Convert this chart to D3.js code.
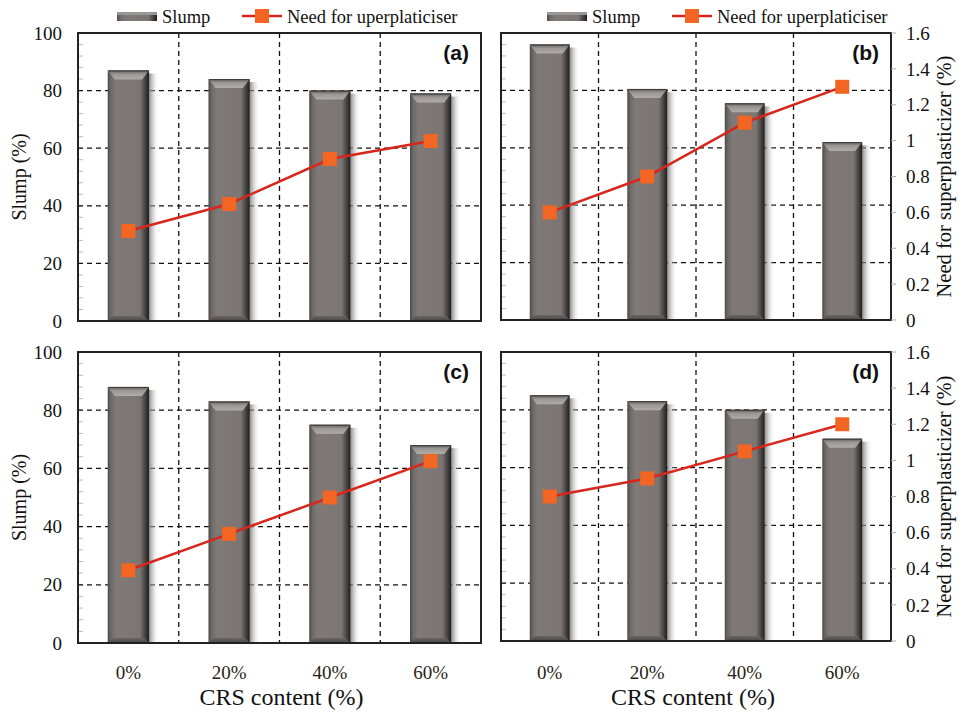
<!DOCTYPE html>
<html><head><meta charset="utf-8">
<script src="https://cdn.jsdelivr.net/npm/d3@7"></script>
<style>
body{margin:0;background:#fff}svg{display:block}
</style>
</head><body>
<svg id="chart" width="963" height="712"></svg>
<script>
// ---- DATA ----
const categories = ["0%", "20%", "40%", "60%"];
const slumpA = [87, 84, 80, 79];
const slumpB = [96, 80.5, 75.5, 62];
const slumpC = [88, 83, 75, 68];
const slumpD = [85, 83, 80, 70];
const spA = [0.5, 0.65, 0.9, 1.0];
const spB = [0.6, 0.8, 1.1, 1.3];
const spC = [0.4, 0.6, 0.8, 1.0];
const spD = [0.8, 0.9, 1.05, 1.2];
const panelLabels = ["(a)", "(b)", "(c)", "(d)"];
const leftTicks = [0, 20, 40, 60, 80, 100];
const rightTicks = [0, 0.2, 0.4, 0.6, 0.8, 1, 1.2, 1.4, 1.6];
const legendLabels = ["Slump", "Need for uperplaticiser"];
const yTitleLeft = "Slump (%)";
const yTitleRight = "Need for superplasticizer (%)";
const xTitle = "CRS content (%)";

// ---- LAYOUT ----
const svg = d3.select("#chart");
const SERIF = '"Liberation Serif", "Times New Roman", serif';
const SANS = '"Liberation Sans", Arial, sans-serif';

const defs = svg.append("defs");
const gBody = defs.append("linearGradient").attr("id","barBody").attr("x1","0").attr("x2","1").attr("y1","0").attr("y2","0");
[[0,"#4e4a48"],[0.08,"#6e6a67"],[0.2,"#7f7a77"],[0.78,"#7b7673"],[0.9,"#4a4644"],[1,"#1f1d1c"]].forEach(([o,c])=>gBody.append("stop").attr("offset",o).attr("stop-color",c));
const gTop = defs.append("linearGradient").attr("id","barTop").attr("x1","0").attr("x2","0").attr("y1","0").attr("y2","1");
[[0,"#5e5a58"],[0.4,"#9a9693"],[1,"#b0aca8"]].forEach(([o,c])=>gTop.append("stop").attr("offset",o).attr("stop-color",c));
const gBot = defs.append("linearGradient").attr("id","barBot").attr("x1","0").attr("x2","0").attr("y1","0").attr("y2","1");
[[0,"#6a6663"],[1,"#4a4644"]].forEach(([o,c])=>gBot.append("stop").attr("offset",o).attr("stop-color",c));
const gShadow = defs.append("linearGradient").attr("id","barShadow").attr("x1","0").attr("x2","1").attr("y1","0").attr("y2","0");
[[0,"#777",0.85],[1,"#fff",0]].forEach(([o,c,op])=>gShadow.append("stop").attr("offset",o).attr("stop-color",c).attr("stop-opacity",op));

const panels = [
  {x0:78, x1:481, y0:33, y1:321, slump:slumpA, sp:spA, label:panelLabels[0], left:true, bottom:false},
  {x0:501, x1:891, y0:33, y1:320, slump:slumpB, sp:spB, label:panelLabels[1], left:false, bottom:false},
  {x0:78, x1:481, y0:352, y1:643, slump:slumpC, sp:spC, label:panelLabels[2], left:true, bottom:true},
  {x0:501, x1:891, y0:352, y1:641, slump:slumpD, sp:spD, label:panelLabels[3], left:false, bottom:true}
];

panels.forEach(p => {
  const g = svg.append("g");
  const x = d3.scaleBand().domain(categories).range([p.x0, p.x1]).paddingInner(0.59).paddingOuter(0.295);
  const yL = d3.scaleLinear().domain([0, 100]).range([p.y1, p.y0]);
  const yR = d3.scaleLinear().domain([0, 1.6]).range([p.y1, p.y0]);
  const step = x.step();
  const bw = x.bandwidth();

  // minor ticks on left axis (inside)
  g.selectAll(".minor").data(d3.range(0, 101, 4)).join("line")
    .attr("x1", p.x0).attr("x2", p.x0 + 5)
    .attr("y1", d => yL(d)).attr("y2", d => yL(d))
    .attr("stroke", "#bbb").attr("stroke-width", 1);

  // grid
  g.selectAll(".hg").data(leftTicks.filter(d => d > 0 && d < 100)).join("line")
    .attr("x1", p.x0).attr("x2", p.x1)
    .attr("y1", d => yL(d)).attr("y2", d => yL(d))
    .attr("stroke", "#111").attr("stroke-width", 1.3).attr("stroke-dasharray", "5,4");
  g.selectAll(".vg").data(categories.slice(1)).join("line")
    .attr("x1", d => x(d) - (step - bw) / 2)
    .attr("x2", d => x(d) - (step - bw) / 2)
    .attr("y1", p.y0).attr("y2", p.y1)
    .attr("stroke", "#111").attr("stroke-width", 1.3).attr("stroke-dasharray", "5,4");

  // bars
  const bars = g.selectAll(".bar").data(categories.map((c, i) => ({c, v: p.slump[i]}))).join("g");
  bars.append("rect")
    .attr("x", d => x(d.c) + bw).attr("y", d => yL(d.v) + 3)
    .attr("width", 10).attr("height", d => p.y1 - yL(d.v) - 3)
    .attr("fill", "url(#barShadow)");
  bars.append("rect")
    .attr("x", d => x(d.c)).attr("y", d => yL(d.v))
    .attr("width", bw).attr("height", d => p.y1 - yL(d.v))
    .attr("fill", "url(#barBody)");
  bars.append("polygon")
    .attr("points", d => {
      const a = x(d.c), b = a + bw, t = yL(d.v);
      return [[a, t], [b, t], [b - 7, t + 9], [a + 7, t + 9]].map(q => q.join(",")).join(" ");
    })
    .attr("fill", "url(#barTop)");
  bars.append("polygon")
    .attr("points", d => {
      const a = x(d.c), b = a + bw, t = p.y1;
      return [[a + 5, t - 5], [b - 5, t - 5], [b, t], [a, t]].map(q => q.join(",")).join(" ");
    })
    .attr("fill", "url(#barBot)");
  bars.append("line")
    .attr("x1", d => x(d.c) + 1).attr("x2", d => x(d.c) + bw - 1)
    .attr("y1", d => yL(d.v) + 0.5).attr("y2", d => yL(d.v) + 0.5)
    .attr("stroke", "#3c3a38").attr("stroke-width", 1);

  // frame
  g.append("rect").attr("x", p.x0).attr("y", p.y0).attr("width", p.x1 - p.x0).attr("height", p.y1 - p.y0)
    .attr("fill", "none").attr("stroke", "#222").attr("stroke-width", 2);

  // line series
  const pts = categories.map((c, i) => [x(c) + bw / 2, yR(p.sp[i])]);
  g.append("path").attr("d", d3.line()(pts)).attr("fill", "none").attr("stroke", "#d9261c").attr("stroke-width", 2.5);
  g.selectAll(".mk").data(pts).join("rect")
    .attr("x", d => d[0] - 7).attr("y", d => d[1] - 7).attr("width", 14).attr("height", 14)
    .attr("fill", "#f26522");

  // panel label
  g.append("text").style("font-family", SANS).style("font-weight", "bold")
    .attr("x", p.x1 - 12).attr("y", p.y0 + 27).attr("text-anchor", "end")
    .attr("font-size", 21).attr("fill", "#111").text(p.label);

  if (p.left) {
    g.selectAll(".lt").data(leftTicks).join("text").style("font-family", SERIF)
      .attr("x", 62).attr("y", d => yL(d)).attr("dy", "0.35em").attr("text-anchor", "end")
      .attr("font-size", 19).attr("fill", "#111").text(d => d);
    g.append("text").style("font-family", SERIF).attr("transform", `translate(26,${(p.y0 + p.y1) / 2}) rotate(-90)`)
      .attr("text-anchor", "middle").attr("font-size", 20).attr("fill", "#111").text(yTitleLeft);
  } else {
    g.selectAll(".rtk").data(rightTicks).join("line")
      .attr("x1", p.x1).attr("x2", p.x1 + 5).attr("y1", d => yR(d)).attr("y2", d => yR(d))
      .attr("stroke", "#aaa").attr("stroke-width", 1);
    g.selectAll(".rt").data(rightTicks).join("text").style("font-family", SERIF)
      .attr("x", 906).attr("y", d => yR(d)).attr("dy", "0.35em").attr("text-anchor", "start")
      .attr("font-size", 19).attr("fill", "#111").text(d => d);
    g.append("text").style("font-family", SERIF).attr("transform", `translate(951,${(p.y0 + p.y1) / 2}) rotate(-90)`)
      .attr("text-anchor", "middle").attr("font-size", 20.5).attr("fill", "#111").text(yTitleRight);
  }

  if (p.bottom) {
    g.selectAll(".xt").data(categories).join("text").style("font-family", SERIF)
      .attr("x", d => x(d) + bw / 2).attr("y", 679).attr("text-anchor", "middle")
      .attr("font-size", 19).attr("fill", "#2a1e14").text(d => d);
    g.append("text").style("font-family", SERIF).attr("x", (p.x0 + p.x1) / 2 + (p.left ? 2 : -3)).attr("y", 705).attr("text-anchor", "middle")
      .attr("font-size", 24).attr("fill", "#111").text(xTitle);
  }
});

// legends
const legendPos = [{x: 117}, {x: 547}];
legendPos.forEach(lp => {
  const g = svg.append("g");
  const sx = lp.x;
  g.append("rect").attr("x", sx).attr("y", 12).attr("width", 40).attr("height", 9).attr("fill", "url(#barBody)");
  g.append("rect").attr("x", sx).attr("y", 12).attr("width", 40).attr("height", 3).attr("fill", "#9a9693");
  g.append("text").style("font-family", SERIF).attr("x", sx + 45).attr("y", 17).attr("dy", "0.35em")
    .attr("font-size", 18.5).attr("fill", "#111").text(legendLabels[0]);
  const lx = sx + 125;
  g.append("line").attr("x1", lx).attr("x2", lx + 40).attr("y1", 16).attr("y2", 16).attr("stroke", "#d9261c").attr("stroke-width", 2.5);
  g.append("rect").attr("x", lx + 13).attr("y", 9).attr("width", 14).attr("height", 14).attr("fill", "#f26522");
  g.append("text").style("font-family", SERIF).attr("x", lx + 45).attr("y", 17).attr("dy", "0.35em")
    .attr("font-size", 18.5).attr("fill", "#111").text(legendLabels[1]);
});
</script>
</body></html>
